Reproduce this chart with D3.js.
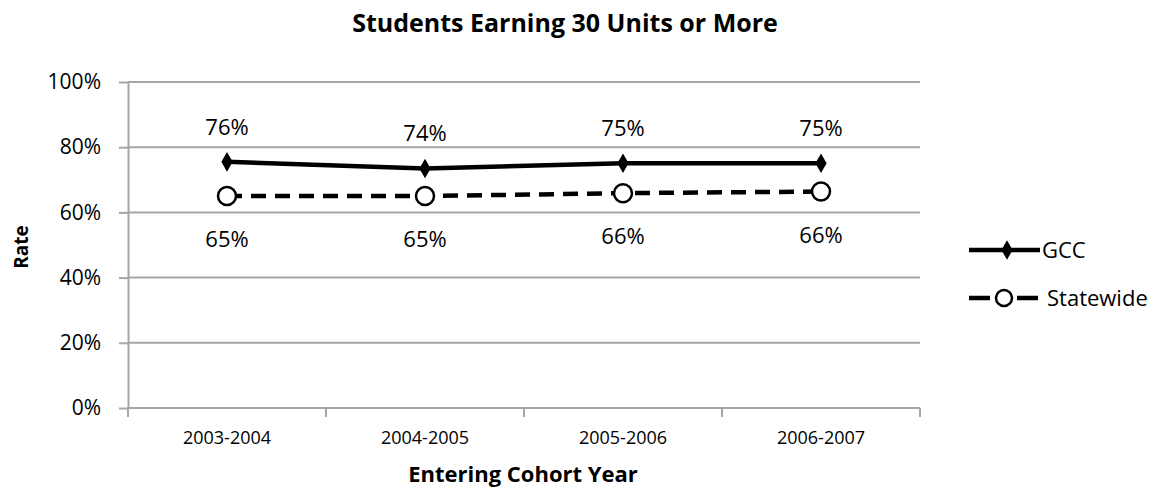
<!DOCTYPE html>
<html lang="en">
<head>
    <meta charset="UTF-8">
    <title>Students Earning 30 Units or More</title>
    <style>
        body {
            margin: 0;
            background: #fff;
            font-family: "Open Sans", "Noto Sans", sans-serif;
        }

        .grid line {
            stroke: #a6a6a6;
            stroke-width: 2px;
        }

        .axis path, .axis line {
            stroke: #a6a6a6;
            stroke-width: 2px;
        }
    </style>
</head>
<body>
    <svg id="chart" width="1166" height="493"></svg>
    <script src="https://d3js.org/d3.v7.min.js"></script>
    <script>
        var categories = ["2003-2004", "2004-2005", "2005-2006", "2006-2007"];
        var gccValues = [0.755, 0.735, 0.751, 0.751];
        var gccLabels = ["76%", "74%", "75%", "75%"];
        var stateValues = [0.65, 0.65, 0.659, 0.664];
        var stateLabels = ["65%", "65%", "66%", "66%"];
        var yTicks = [0, 0.2, 0.4, 0.6, 0.8, 1.0];

        var svg = d3.select("#chart");
        var margin = { top: 82, left: 128, right: 246, bottom: 85 },
            width = 1166 - margin.left - margin.right,
            height = 493 - margin.top - margin.bottom;

        var x = d3.scaleBand().domain(categories).range([0, width]);
        var y = d3.scaleLinear().domain([0, 1]).range([height, 0]);

        var g = svg.append("g")
            .attr("transform", "translate(" + margin.left + "," + margin.top + ")");

        // gridlines
        g.append("g")
            .attr("class", "grid")
            .selectAll("line")
            .data(yTicks.slice(1))
            .enter().append("line")
            .attr("x1", 0)
            .attr("x2", width)
            .attr("y1", function (d) { return y(d); })
            .attr("y2", function (d) { return y(d); });

        // y axis
        var yAxis = g.append("g")
            .attr("class", "axis")
            .call(d3.axisLeft(y).tickValues(yTicks).tickSize(9).tickSizeOuter(0).tickPadding(18)
                .tickFormat(d3.format(".0%")));
        yAxis.selectAll("text")
            .style("font-size", "21px")
            .style("font-family", "'Open Sans', sans-serif")
            .attr("fill", "#000");

        // x axis with ticks at band boundaries
        var xAxis = g.append("g")
            .attr("class", "axis")
            .attr("transform", "translate(0," + height + ")");
        xAxis.append("line")
            .attr("x1", 0).attr("x2", width);
        var bounds = categories.map(function (c) { return x(c); }).concat([width]);
        xAxis.selectAll(".tk")
            .data(bounds)
            .enter().append("line")
            .attr("class", "tk")
            .attr("x1", function (d) { return d; })
            .attr("x2", function (d) { return d; })
            .attr("y1", 0).attr("y2", 9);
        xAxis.selectAll(".lbl")
            .data(categories)
            .enter().append("text")
            .attr("class", "lbl")
            .attr("x", function (d) { return x(d) + x.bandwidth() / 2; })
            .attr("y", 36)
            .attr("text-anchor", "middle")
            .style("font-size", "18px")
            .text(function (d) { return d; });

        var cx = function (d, i) { return x(categories[i]) + x.bandwidth() / 2; };

        // statewide dashed line
        var line = d3.line()
            .x(function (d, i) { return cx(d, i); })
            .y(function (d) { return y(d); });

        g.append("path")
            .datum(stateValues)
            .attr("fill", "none")
            .attr("stroke", "#000")
            .attr("stroke-width", 4.5)
            .attr("stroke-dasharray", "15,9")
            .attr("d", line);

        g.selectAll(".smark")
            .data(stateValues)
            .enter().append("circle")
            .attr("cx", cx)
            .attr("cy", function (d) { return y(d); })
            .attr("r", 9)
            .attr("fill", "#fff")
            .attr("stroke", "#000")
            .attr("stroke-width", 2.5);

        // GCC solid line
        g.append("path")
            .datum(gccValues)
            .attr("fill", "none")
            .attr("stroke", "#000")
            .attr("stroke-width", 4.5)
            .attr("d", line);

        var diamond = d3.symbol().type(d3.symbolDiamond).size(110);
        g.selectAll(".gmark")
            .data(gccValues)
            .enter().append("path")
            .attr("transform", function (d, i) { return "translate(" + cx(d, i) + "," + y(d) + ")"; })
            .attr("d", diamond)
            .attr("fill", "#000");

        // data labels
        g.selectAll(".glbl")
            .data(gccValues)
            .enter().append("text")
            .attr("x", cx)
            .attr("y", function (d) { return y(d) - 27; })
            .attr("text-anchor", "middle")
            .style("font-size", "22px")
            .text(function (d, i) { return gccLabels[i]; });

        g.selectAll(".slbl")
            .data(stateValues)
            .enter().append("text")
            .attr("x", cx)
            .attr("y", function (d) { return y(d) + 51; })
            .attr("text-anchor", "middle")
            .style("font-size", "22px")
            .text(function (d, i) { return stateLabels[i]; });

        // titles
        svg.append("text")
            .attr("x", 565)
            .attr("y", 32)
            .attr("text-anchor", "middle")
            .style("font-size", "25px")
            .style("font-weight", "bold")
            .text("Students Earning 30 Units or More");

        svg.append("text")
            .attr("x", 523)
            .attr("y", 482)
            .attr("text-anchor", "middle")
            .style("font-size", "22px")
            .style("font-weight", "bold")
            .text("Entering Cohort Year");

        svg.append("text")
            .attr("transform", "translate(28,247) rotate(-90)")
            .attr("text-anchor", "middle")
            .style("font-size", "19px")
            .style("font-weight", "bold")
            .text("Rate");

        // legend
        var legend = svg.append("g").attr("transform", "translate(969,0)");
        legend.append("line")
            .attr("x1", 0).attr("x2", 71).attr("y1", 250).attr("y2", 250)
            .attr("stroke", "#000").attr("stroke-width", 4.5);
        legend.append("path")
            .attr("transform", "translate(38,250)")
            .attr("d", diamond)
            .attr("fill", "#000");
        legend.append("text")
            .attr("x", 73).attr("y", 258)
            .style("font-size", "22px")
            .text("GCC");

        legend.append("line")
            .attr("x1", 0).attr("x2", 69).attr("y1", 298).attr("y2", 298)
            .attr("stroke", "#000").attr("stroke-width", 4.5)
            .attr("stroke-dasharray", "21,27");
        legend.append("circle")
            .attr("cx", 35).attr("cy", 298).attr("r", 8)
            .attr("fill", "#fff").attr("stroke", "#000").attr("stroke-width", 2.5);
        legend.append("text")
            .attr("x", 78).attr("y", 306)
            .style("font-size", "22px")
            .text("Statewide");
    </script>
</body>
</html>
